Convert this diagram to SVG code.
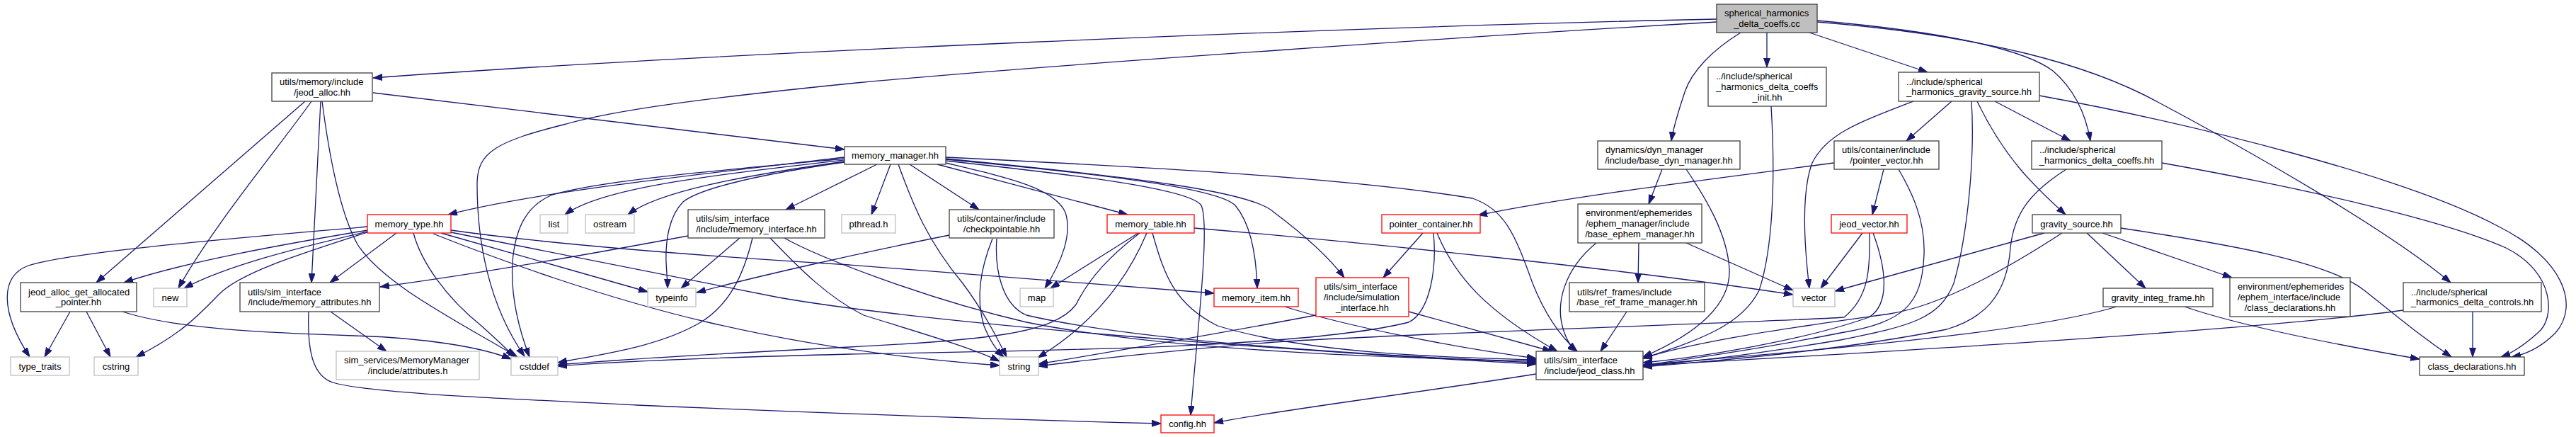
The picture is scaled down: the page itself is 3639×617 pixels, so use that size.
<svg xmlns="http://www.w3.org/2000/svg" width="3639" height="617" viewBox="0 0 3639 617">
<style>
.n rect{fill:#ffffff;stroke:#404040;stroke-width:1.3}
.n.g rect{stroke:#bfbfbf}
.n.r rect{stroke:#ff0000}
.n.root rect{fill:#bfbfbf}
text{font-family:"Liberation Sans",Arial,sans-serif;font-size:13px;fill:#000000}
.m{text-anchor:middle}
#edges path{fill:none;stroke:#191970;stroke-width:1.3;marker-end:url(#a)}
</style>
<defs>
<marker id="a" markerUnits="userSpaceOnUse" markerWidth="14" markerHeight="10" refX="13" refY="4.5" orient="auto"><path d="M0,0 L13,4.5 L0,9 z" fill="#191970" stroke="#191970" stroke-width="1"/></marker>
</defs>
<rect x="0" y="0" width="3639" height="617" fill="#ffffff"/>
<g id="edges">
<path d="M2425,27 C1900,38 1000,75 527,110"/>
<path d="M2425,31 C2100,50 1500,90 1210,117 C1000,138 870,155 800,175 C700,200 674,215 674,260 C674,340 690,430 741,503"/>
<path d="M2496,46 L2496,95"/>
<path d="M2556,46 L2723,102"/>
<path d="M2567,29 C2750,45 2860,70 2900,100 C2935,130 2948,170 2953,199"/>
<path d="M2567,31 C2800,50 2950,90 3050,145 C3200,225 3380,330 3462,399"/>
<path d="M2459,46 C2420,70 2390,100 2380,130 C2370,160 2363,185 2361,199"/>
<path d="M527,131 L1193,211"/>
<path d="M431,143 L136,399"/>
<path d="M440,143 C400,200 300,320 252,407"/>
<path d="M453,143 L440,399"/>
<path d="M455,143 C465,220 480,300 505,345 C540,400 640,450 731,504"/>
<path d="M99,440 L63,504"/>
<path d="M122,440 L156,504"/>
<path d="M173,440 C250,465 380,470 500,474 C600,477 680,490 722,507"/>
<path d="M467,440 L546,496"/>
<path d="M436,440 C434,490 440,530 470,540 C520,555 700,562 900,572 C1200,585 1450,593 1640,598"/>
<path d="M1193,222 C1000,245 760,270 633,303"/>
<path d="M1193,224 C1000,242 850,255 780,275 C745,290 728,320 724,370 C721,420 735,470 748,504"/>
<path d="M1193,226 C1000,248 850,265 798,303"/>
<path d="M1193,228 C1050,248 930,270 887,303"/>
<path d="M1193,229 C1080,245 990,265 965,285 C945,305 940,340 941,370 C942,390 943,398 943,407"/>
<path d="M1239,232 L1110,296"/>
<path d="M1258,232 L1231,303"/>
<path d="M1269,232 C1290,290 1310,340 1360,400 C1390,440 1410,480 1422,504"/>
<path d="M1285,232 L1383,296"/>
<path d="M1324,232 L1593,303"/>
<path d="M1336,230 C1420,250 1490,265 1505,300 C1515,330 1500,370 1476,407"/>
<path d="M1336,227 C1500,245 1680,265 1697,290 C1710,320 1690,480 1682,586"/>
<path d="M1336,225 C1550,245 1720,265 1745,290 C1770,320 1775,370 1776,407"/>
<path d="M1336,224 C1600,250 1770,270 1800,300 C1840,330 1875,360 1899,392"/>
<path d="M1336,222 C1600,235 1900,250 2080,280 C2125,295 2140,330 2165,400 C2185,450 2210,480 2228,496"/>
<path d="M519,320 C350,335 100,355 40,375 C0,390 0,440 42,504"/>
<path d="M519,325 C400,345 260,370 175,399"/>
<path d="M519,327 C420,350 320,375 260,407"/>
<path d="M519,328 C420,360 340,385 310,415 C285,440 260,470 192,504"/>
<path d="M560,329 L466,399"/>
<path d="M584,329 C595,370 630,420 680,460 C700,478 715,492 727,504"/>
<path d="M623,329 L915,412"/>
<path d="M637,325 C780,345 1000,362 1200,374 C1400,388 1600,404 1715,414"/>
<path d="M637,328 C800,360 950,390 1100,420 C1300,455 1800,495 2170,514"/>
<path d="M612,330 C700,365 850,420 1000,455 C1150,490 1300,508 1412,516"/>
<path d="M972,333 C800,365 650,390 537,405"/>
<path d="M1045,336 L962,407"/>
<path d="M1063,336 C1050,390 1030,430 990,455 C930,490 850,500 788,512"/>
<path d="M1088,336 C1130,380 1170,420 1220,445 C1300,470 1370,490 1412,510"/>
<path d="M1108,336 C1150,360 1300,420 1450,455 C1650,495 1950,505 2170,510"/>
<path d="M1341,332 C1200,360 1050,395 984,413"/>
<path d="M1402,337 C1385,380 1378,420 1390,460 C1398,480 1408,495 1418,504"/>
<path d="M1408,337 C1405,380 1415,430 1450,445 C1600,480 1900,500 2170,512"/>
<path d="M1608,329 L1484,407"/>
<path d="M1610,329 C1570,360 1540,390 1520,430 C1490,470 1400,480 1200,490 C1000,500 850,510 788,515"/>
<path d="M1620,329 C1590,400 1540,460 1466,505"/>
<path d="M1628,329 C1645,390 1660,430 1720,460 C1850,500 2050,505 2170,508"/>
<path d="M1687,322 C1900,340 2300,380 2533,416"/>
<path d="M1815,433 C1900,460 2050,490 2170,506"/>
<path d="M1859,445 C1700,475 1550,500 1467,514"/>
<path d="M1990,440 L2192,496"/>
<path d="M2010,329 L1954,392"/>
<path d="M2025,329 C2030,380 2020,440 1990,455 C1850,490 1500,495 1200,500 C1000,505 850,512 788,517"/>
<path d="M2030,329 C2055,390 2100,440 2200,496"/>
<path d="M2591,230 C2400,255 2200,280 2088,304"/>
<path d="M2661,239 L2645,303"/>
<path d="M2682,239 C2700,270 2720,310 2718,360 C2715,430 2690,455 2600,470 C2500,490 2400,505 2321,516"/>
<path d="M2348,239 L2329,288"/>
<path d="M2382,239 C2410,280 2440,330 2443,380 C2445,430 2400,470 2321,504"/>
<path d="M2315,343 L2314,399"/>
<path d="M2255,343 C2210,380 2195,430 2210,470 C2215,485 2222,492 2228,496"/>
<path d="M2382,343 L2533,410"/>
<path d="M2298,440 L2261,496"/>
<path d="M2631,329 L2572,407"/>
<path d="M2641,329 C2642,380 2640,420 2605,448 C2500,455 2000,470 1800,483 C1650,495 1520,510 1467,517"/>
<path d="M2646,329 C2665,380 2670,430 2640,448 C2550,480 2400,505 2321,512"/>
<path d="M2757,143 L2693,199"/>
<path d="M2818,143 L2925,199"/>
<path d="M2703,143 C2620,175 2580,190 2560,230 C2545,270 2548,340 2556,407"/>
<path d="M2785,143 C2790,220 2780,330 2760,400 C2740,450 2700,460 2600,480 C2480,500 2380,512 2321,516"/>
<path d="M2793,143 C2830,220 2870,260 2918,303"/>
<path d="M2881,135 C3100,175 3400,250 3530,320 C3620,365 3645,430 3610,470 C3590,490 3570,500 3548,504"/>
<path d="M3054,230 C3250,265 3450,310 3540,350 C3610,385 3610,450 3585,470 C3565,488 3550,498 3533,504"/>
<path d="M2919,239 C2870,270 2845,300 2840,350 C2835,420 2800,450 2750,465 C2600,495 2420,510 2321,518"/>
<path d="M2888,329 L2592,411"/>
<path d="M2913,329 C2850,370 2750,430 2670,443 C2550,460 2400,480 2321,506"/>
<path d="M2948,329 L3031,407"/>
<path d="M2970,329 L3153,392"/>
<path d="M2996,322 C3150,345 3290,370 3340,410 C3390,450 3420,475 3463,504"/>
<path d="M2990,433 C2900,460 2700,485 2321,515"/>
<path d="M3086,433 C3150,455 3250,478 3418,507"/>
<path d="M3493,440 L3493,504"/>
<path d="M3395,438 C3200,465 2700,495 2321,516"/>
<path d="M2502,150 C2508,250 2505,350 2485,410 C2460,460 2400,480 2321,506"/>
<path d="M2170,528 C2000,555 1800,580 1715,597"/>
</g>
<g id="cc" class="n root"><rect x="2425" y="6" width="142" height="40"/><text x="2436" y="23.25">spherical_harmonics</text><text class="m" x="2496" y="37.95">_delta_coeffs.cc</text></g>
<g id="jeod_alloc" class="n"><rect x="384" y="103" width="142" height="40"/><text x="395" y="120.25">utils/memory/include</text><text class="m" x="455" y="134.95">/jeod_alloc.hh</text></g>
<g id="delta_coeffs_init" class="n"><rect x="2413" y="95" width="167" height="55"/><text x="2424" y="112.4">../include/spherical</text><text x="2424" y="127.1">_harmonics_delta_coeffs</text><text class="m" x="2496.5" y="141.8">_init.hh</text></g>
<g id="sh_gravity_source" class="n"><rect x="2682" y="102" width="199" height="41"/><text x="2693" y="119.75">../include/spherical</text><text class="m" x="2781.5" y="134.45">_harmonics_gravity_source.hh</text></g>
<g id="base_dyn_manager" class="n"><rect x="2257" y="199" width="201" height="40"/><text x="2268" y="216.25">dynamics/dyn_manager</text><text class="m" x="2357.5" y="230.95">/include/base_dyn_manager.hh</text></g>
<g id="pointer_vector" class="n"><rect x="2591" y="199" width="148" height="40"/><text x="2602" y="216.25">utils/container/include</text><text class="m" x="2665" y="230.95">/pointer_vector.hh</text></g>
<g id="delta_coeffs" class="n"><rect x="2870" y="199" width="184" height="40"/><text x="2881" y="216.25">../include/spherical</text><text class="m" x="2962" y="230.95">_harmonics_delta_coeffs.hh</text></g>
<g id="memory_manager" class="n"><rect x="1193" y="207" width="143" height="25"/><text class="m" x="1264.5" y="224">memory_manager.hh</text></g>
<g id="memory_type" class="n r"><rect x="519" y="303" width="118" height="26"/><text class="m" x="578" y="320.6">memory_type.hh</text></g>
<g id="list" class="n g"><rect x="763" y="303" width="39" height="26"/><text class="m" x="782.5" y="320.6">list</text></g>
<g id="ostream" class="n g"><rect x="827" y="303" width="69" height="26"/><text class="m" x="861.5" y="320.6">ostream</text></g>
<g id="memory_interface" class="n"><rect x="972" y="296" width="193" height="40"/><text x="983" y="313.25">utils/sim_interface</text><text class="m" x="1068.5" y="327.95">/include/memory_interface.hh</text></g>
<g id="pthread" class="n g"><rect x="1189" y="303" width="76" height="26"/><text class="m" x="1227" y="320.6">pthread.h</text></g>
<g id="checkpointable" class="n"><rect x="1341" y="296" width="148" height="40"/><text x="1352" y="313.25">utils/container/include</text><text class="m" x="1415" y="327.95">/checkpointable.hh</text></g>
<g id="memory_table" class="n r"><rect x="1564" y="303" width="123" height="26"/><text class="m" x="1625.5" y="320.6">memory_table.hh</text></g>
<g id="pointer_container" class="n r"><rect x="1952" y="303" width="139" height="26"/><text class="m" x="2021.5" y="320.6">pointer_container.hh</text></g>
<g id="base_ephem_manager" class="n"><rect x="2229" y="288" width="175" height="55"/><text x="2240" y="305.4">environment/ephemerides</text><text x="2240" y="320.1">/ephem_manager/include</text><text class="m" x="2316.5" y="334.8">/base_ephem_manager.hh</text></g>
<g id="jeod_vector" class="n r"><rect x="2587" y="303" width="107" height="26"/><text class="m" x="2640.5" y="320.6">jeod_vector.hh</text></g>
<g id="gravity_source" class="n"><rect x="2871" y="303" width="125" height="26"/><text class="m" x="2933.5" y="320.6">gravity_source.hh</text></g>
<g id="jeod_alloc_get_allocated_pointer" class="n"><rect x="29" y="399" width="164" height="41"/><text x="40" y="416.75">jeod_alloc_get_allocated</text><text class="m" x="111" y="431.45">_pointer.hh</text></g>
<g id="new" class="n g"><rect x="217" y="407" width="47" height="26"/><text class="m" x="240.5" y="424.6">new</text></g>
<g id="memory_attributes" class="n"><rect x="339" y="399" width="197" height="41"/><text x="350" y="416.75">utils/sim_interface</text><text class="m" x="437.5" y="431.45">/include/memory_attributes.hh</text></g>
<g id="typeinfo" class="n g"><rect x="915" y="407" width="68" height="26"/><text class="m" x="949" y="424.6">typeinfo</text></g>
<g id="map" class="n g"><rect x="1441" y="407" width="47" height="26"/><text class="m" x="1464.5" y="424.6">map</text></g>
<g id="memory_item" class="n r"><rect x="1715" y="407" width="119" height="26"/><text class="m" x="1774.5" y="424.6">memory_item.hh</text></g>
<g id="simulation_interface" class="n r"><rect x="1859" y="392" width="131" height="55"/><text x="1870" y="409.4">utils/sim_interface</text><text x="1870" y="424.1">/include/simulation</text><text class="m" x="1924.5" y="438.8">_interface.hh</text></g>
<g id="base_ref_frame_manager" class="n"><rect x="2217" y="399" width="191" height="41"/><text x="2228" y="416.75">utils/ref_frames/include</text><text class="m" x="2312.5" y="431.45">/base_ref_frame_manager.hh</text></g>
<g id="vector" class="n g"><rect x="2533" y="407" width="59" height="26"/><text class="m" x="2562.5" y="424.6">vector</text></g>
<g id="gravity_integ_frame" class="n"><rect x="2971" y="407" width="155" height="26"/><text class="m" x="3048.5" y="424.6">gravity_integ_frame.hh</text></g>
<g id="ephem_class_declarations" class="n"><rect x="3150" y="392" width="170" height="55"/><text x="3161" y="409.4">environment/ephemerides</text><text x="3161" y="424.1">/ephem_interface/include</text><text class="m" x="3235" y="438.8">/class_declarations.hh</text></g>
<g id="delta_controls" class="n"><rect x="3395" y="399" width="195" height="41"/><text x="3406" y="416.75">../include/spherical</text><text class="m" x="3492.5" y="431.45">_harmonics_delta_controls.hh</text></g>
<g id="type_traits" class="n g"><rect x="15" y="504" width="83" height="26"/><text class="m" x="56.5" y="521.6">type_traits</text></g>
<g id="cstring" class="n g"><rect x="133" y="504" width="62" height="26"/><text class="m" x="164" y="521.6">cstring</text></g>
<g id="attributes" class="n g"><rect x="475" y="496" width="202" height="40"/><text x="486" y="513.25">sim_services/MemoryManager</text><text class="m" x="576" y="527.95">/include/attributes.h</text></g>
<g id="cstddef" class="n g"><rect x="722" y="504" width="66" height="26"/><text class="m" x="755" y="521.6">cstddef</text></g>
<g id="string" class="n g"><rect x="1412" y="504" width="55" height="26"/><text class="m" x="1439.5" y="521.6">string</text></g>
<g id="jeod_class" class="n"><rect x="2170" y="496" width="151" height="40"/><text x="2181" y="513.25">utils/sim_interface</text><text class="m" x="2245.5" y="527.95">/include/jeod_class.hh</text></g>
<g id="config" class="n r"><rect x="1640" y="586" width="75" height="25"/><text class="m" x="1677.5" y="603">config.hh</text></g>
<g id="class_declarations" class="n"><rect x="3418" y="504" width="148" height="26"/><text class="m" x="3492" y="521.6">class_declarations.hh</text></g>
</svg>
